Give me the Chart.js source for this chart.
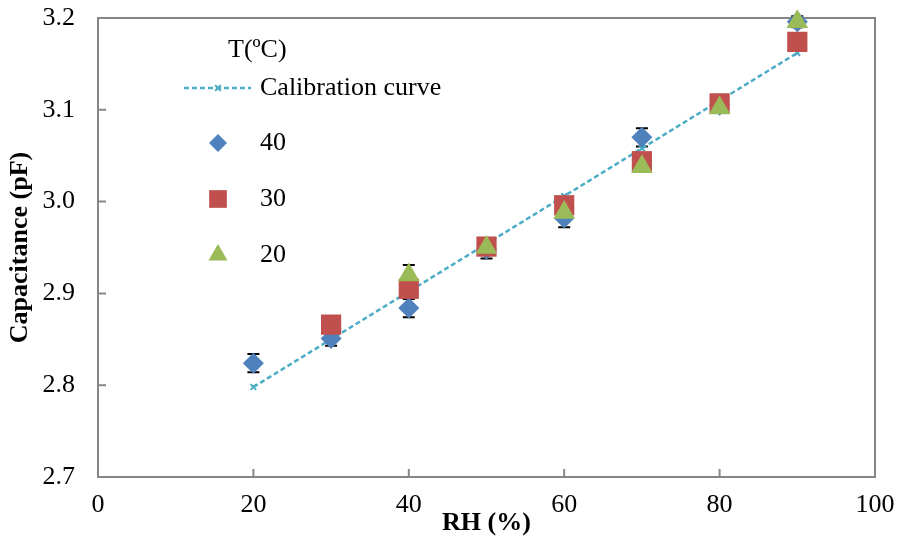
<!DOCTYPE html>
<html>
<head>
<meta charset="utf-8">
<script src="https://cdn.jsdelivr.net/npm/chart.js@4.4.1/dist/chart.umd.min.js"></script>
<style>
  html, body { margin: 0; padding: 0; background: #fff; }
</style>
</head>
<body>
<canvas id="chart" width="897" height="537"></canvas>
<script>
// values
var rh = [20, 30, 40, 50, 60, 70, 80, 90];
var calibration = [2.798, 2.850, 2.902, 2.954, 3.006, 3.058, 3.110, 3.162];
var cap40 = [2.824, 2.851, 2.884, 2.948, 2.982, 3.070, 3.105, 3.196];
var err40 = [0.010, 0.008, 0.010, 0.010, 0.010, 0.010, 0.005, 0.006];
var cap30 = [null, 2.866, 2.905, 2.951, 2.996, 3.044, 3.107, 3.174];
var err30 = [0, 0.005, 0.005, 0.005, 0.005, 0.005, 0.005, 0.005];
var cap20 = [null, null, 2.920, 2.950, 2.988, 3.038, 3.102, 3.196];
var err20 = [0, 0, 0.011, 0.005, 0.005, 0.005, 0.005, 0.005];
var xTicks = [0, 20, 40, 60, 80, 100];
var yTicks = [2.7, 2.8, 2.9, 3.0, 3.1, 3.2];

var FONT = "'Liberation Serif', 'Times New Roman', serif";
var FONT_SIZE = 26;
var AXIS_GRAY = '#868686';
var CALIB_DASH = [5, 3];

function points(ys) {
  return rh.map(function (x, i) { return { x: x, y: ys[i] }; })
           .filter(function (p) { return p.y !== null; });
}

// frame with inward tick marks, then every error bar under all markers
var frameAndErrors = {
  id: 'frameAndErrors',
  beforeDatasetsDraw: function (chart) {
    var ctx = chart.ctx, a = chart.chartArea, xs = chart.scales.x, ys = chart.scales.y;
    ctx.save();
    ctx.strokeStyle = AXIS_GRAY;
    ctx.lineWidth = 2;
    ctx.strokeRect(a.left, a.top, a.right - a.left, a.bottom - a.top);
    ctx.beginPath();
    xTicks.slice(1, -1).forEach(function (t) {
      var px = xs.getPixelForValue(t);
      ctx.moveTo(px, a.bottom); ctx.lineTo(px, a.bottom - 8);
    });
    yTicks.slice(1, -1).forEach(function (t) {
      var py = ys.getPixelForValue(t);
      ctx.moveTo(a.left, py); ctx.lineTo(a.left + 8, py);
    });
    ctx.stroke();

    ctx.strokeStyle = '#000';
    ctx.beginPath();
    chart.data.datasets.forEach(function (ds) {
      if (!ds.errors) return;
      rh.forEach(function (x, i) {
        var v = ds.values[i], e = ds.errors[i];
        if (v === null || !e) return;
        var px = xs.getPixelForValue(x);
        var top = ys.getPixelForValue(v + e), bot = ys.getPixelForValue(v - e);
        ctx.moveTo(px, top); ctx.lineTo(px, bot);
        ctx.moveTo(px - 6, top); ctx.lineTo(px + 6, top);
        ctx.moveTo(px - 6, bot); ctx.lineTo(px + 6, bot);
      });
    });
    ctx.stroke();
    ctx.restore();
  }
};

// legend sitting inside the plot, upper left
var insideLegend = {
  id: 'insideLegend',
  afterDraw: function (chart) {
    var ctx = chart.ctx;
    var dsets = chart.data.datasets;
    ctx.save();
    ctx.font = FONT_SIZE + 'px ' + FONT;
    ctx.fillStyle = '#000';
    ctx.textBaseline = 'middle';
    ctx.fillText('T(\u00baC)', 228, 50);
    var rows = [88, 143, 199, 255];
    dsets.forEach(function (ds, i) {
      var y = rows[i];
      if (ds.showLine) {
        ctx.save();
        ctx.strokeStyle = ds.borderColor;
        ctx.lineWidth = ds.borderWidth;
        ctx.setLineDash(CALIB_DASH);
        ctx.beginPath();
        ctx.moveTo(184, y); ctx.lineTo(251, y);
        ctx.stroke();
        ctx.restore();
      }
      ctx.fillStyle = ds.pointBackgroundColor;
      ctx.strokeStyle = ds.pointBorderColor;
      ctx.lineWidth = ds.pointBorderWidth;
      Chart.helpers.drawPoint(ctx, {
        pointStyle: ds.pointStyle, radius: ds.legendRadius,
        rotation: 0, borderWidth: ds.pointBorderWidth
      }, 218, y);
      ctx.fillStyle = '#000';
      ctx.fillText(ds.label, 260, y);
    });
    ctx.restore();
  }
};

new Chart(document.getElementById('chart'), {
  type: 'scatter',
  data: {
    datasets: [
      {
        label: 'Calibration curve',
        order: 4,
        values: calibration,
        data: points(calibration),
        showLine: true,
        borderColor: '#4BACC6',
        borderWidth: 2.5,
        borderDash: CALIB_DASH,
        pointStyle: 'crossRot',
        pointRadius: 4,
        legendRadius: 4,
        pointBorderWidth: 2,
        pointBorderColor: '#4BACC6',
        pointBackgroundColor: '#4BACC6',
        clip: false
      },
      {
        label: '40',
        order: 3,
        values: cap40,
        errors: err40,
        data: points(cap40),
        pointStyle: 'rectRot',
        pointRadius: 10.5,
        legendRadius: 9,
        pointBorderWidth: 0,
        pointBorderColor: '#4F81BD',
        pointBackgroundColor: '#4F81BD',
        clip: false
      },
      {
        label: '30',
        order: 2,
        values: cap30,
        errors: err30,
        data: points(cap30),
        pointStyle: 'rect',
        pointRadius: 14.3,
        legendRadius: 12.5,
        pointBorderWidth: 0,
        pointBorderColor: '#C0504D',
        pointBackgroundColor: '#C0504D',
        clip: false
      },
      {
        label: '20',
        order: 1,
        values: cap20,
        errors: err20,
        data: points(cap20),
        pointStyle: 'triangle',
        pointRadius: 12.5,
        legendRadius: 11,
        pointBorderWidth: 0,
        pointBorderColor: '#9BBB59',
        pointBackgroundColor: '#9BBB59',
        clip: false
      }
    ]
  },
  options: {
    responsive: false,
    animation: false,
    events: [],
    layout: { padding: { top: 18, right: 22, left: 0, bottom: 0 } },
    plugins: {
      legend: { display: false },
      tooltip: { enabled: false }
    },
    scales: {
      x: {
        type: 'linear',
        min: 0, max: 100,
        afterBuildTicks: function (s) { s.ticks = xTicks.map(function (v) { return { value: v }; }); },
        afterFit: function (s) { s.height = 60; s.paddingLeft = 0; s.paddingRight = 0; },
        grid: { display: false, drawTicks: false },
        border: { display: false },
        ticks: { color: '#000', padding: 13, maxRotation: 0, font: { family: FONT, size: FONT_SIZE } },
        title: {
          display: true, text: 'RH (%)', color: '#000',
          padding: { top: 0, bottom: 1 },
          font: { family: FONT, size: FONT_SIZE, weight: 'bold', lineHeight: 1 }
        }
      },
      y: {
        type: 'linear',
        min: 2.7, max: 3.2,
        afterBuildTicks: function (s) { s.ticks = yTicks.map(function (v) { return { value: v }; }); },
        afterFit: function (s) { s.width = 98; s.paddingTop = 0; s.paddingBottom = 0; },
        grid: { display: false, drawTicks: false },
        border: { display: false },
        ticks: {
          color: '#000', padding: 23, font: { family: FONT, size: FONT_SIZE },
          callback: function (v) { return v.toFixed(1); }
        },
        title: {
          display: true, text: 'Capacitance (pF)', color: '#000',
          padding: { top: 7, bottom: 0 },
          font: { family: FONT, size: FONT_SIZE, weight: 'bold', lineHeight: 1 }
        }
      }
    }
  },
  plugins: [frameAndErrors, insideLegend]
});
</script>
</body>
</html>
